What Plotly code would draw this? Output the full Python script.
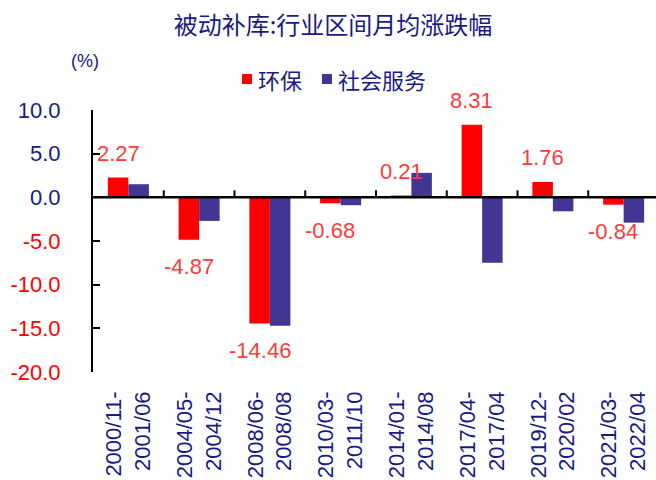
import plotly.graph_objects as go

# Interval labels (start- / end) for each passive-restocking period
periods = [
    "2000/11-<br>2001/06",
    "2004/05-<br>2004/12",
    "2008/06-<br>2008/08",
    "2010/03-<br>2011/10",
    "2014/01-<br>2014/08",
    "2017/04-<br>2017/04",
    "2019/12-<br>2020/02",
    "2021/03-<br>2022/04",
]

# Average monthly change (%) per period
huanbao = [2.27, -4.87, -14.46, -0.68, 0.21, 8.31, 1.76, -0.84]
shehui_fuwu = [1.5, -2.7, -14.7, -0.9, 2.8, -7.5, -1.6, -2.9]

series_names = ["环保", "社会服务"]
y_ticks = [-20, -15, -10, -5, 0, 5, 10]

RED = "#ff0000"
BLUE = "#433594"
NAVY = "#1a1a86"
LABEL_RED = "#ff3b3b"
NUM_FONT = "Arial, Liberation Sans, sans-serif"
CJK_FONT = "Noto Sans CJK SC, sans-serif"

W, H = 656, 480
ml, mr, mt, mb = 93, 0, 110, 108
pw, ph = W - ml - mr, H - mt - mb


def px_x(px):
    """Pixel column -> paper x."""
    return (px - ml) / pw


def px_y(py):
    """Pixel row (from top) -> paper y."""
    return (H - py - mb) / ph


x_idx = list(range(len(periods)))
bargap = 0.42

fig = go.Figure()
fig.add_trace(go.Bar(x=x_idx, y=huanbao, name=series_names[0], marker_color=RED,
                     marker_line_width=0, showlegend=False))
fig.add_trace(go.Bar(x=x_idx, y=shehui_fuwu, name=series_names[1], marker_color=BLUE,
                     marker_line_width=0, showlegend=False))

# Value labels above/below the 环保 bars
red_offset = -(1 - bargap) / 4
annotations = []
for i, v in enumerate(huanbao):
    annotations.append(dict(
        x=i + red_offset, y=v, xref="x", yref="y",
        text=f"{v:.2f}", showarrow=False,
        yshift=24 if v >= 0 else -27, yanchor="middle",
        font=dict(family=NUM_FONT, size=22, color=LABEL_RED),
    ))

# unit label
annotations.append(dict(
    x=px_x(85), y=px_y(61), xref="paper", yref="paper", text="(%)",
    xanchor="center", yanchor="middle", showarrow=False,
    font=dict(family=NUM_FONT, size=18, color=NAVY),
))

shapes = []

# legend: coloured squares followed by series names
legend_items = [(series_names[0], RED, 242), (series_names[1], BLUE, 322)]
for name, color, left in legend_items:
    shapes.append(dict(type="rect", xref="paper", yref="paper",
                       x0=px_x(left), x1=px_x(left + 10),
                       y0=px_y(84), y1=px_y(74),
                       fillcolor=color, line=dict(width=0), layer="above"))
    annotations.append(dict(
        x=px_x(left + 14), y=px_y(79), xref="paper", yref="paper", text=name,
        xanchor="left", yanchor="middle", showarrow=False,
        font=dict(family=CJK_FONT, size=22, color=NAVY),
    ))

# Y tick labels: positive values navy, negative values red
y_ticktext = [
    f"<span style='color:{NAVY if v >= 0 else RED}'>{v:.1f}</span>" for v in y_ticks
]

# zero line acting as the category axis
shapes.append(dict(type="line", xref="paper", yref="y", x0=0, x1=1, y0=0, y1=0,
                   line=dict(color="black", width=2.5), layer="above"))
# short upward ticks at category boundaries on the zero line
for i in range(len(periods) - 1):
    shapes.append(dict(type="line", xref="x", yref="y", ysizemode="pixel",
                       yanchor=0, x0=i + 0.5, x1=i + 0.5, y0=0, y1=7,
                       line=dict(color="black", width=2), layer="above"))

fig.update_layout(
    template="none",
    width=W, height=H,
    margin=dict(l=ml, r=mr, t=mt, b=mb, pad=0),
    paper_bgcolor="white", plot_bgcolor="white",
    barmode="group", bargap=bargap, bargroupgap=0,
    title=dict(text="被动补库:行业区间月均涨跌幅", x=333 / W, xanchor="center",
               y=1 - 26 / H, yanchor="middle",
               font=dict(family=CJK_FONT, size=24, color=NAVY)),
    showlegend=False,
    annotations=annotations,
    shapes=shapes,
    xaxis=dict(range=[-0.5, -0.5 + pw / 70.75], tickmode="array", tickvals=x_idx,
               ticktext=periods, tickangle=-90, showline=False, ticks="",
               showgrid=False, zeroline=False, automargin=False,
               ticklabelstandoff=14,
               tickfont=dict(family=NUM_FONT, size=22, color=NAVY)),
    yaxis=dict(range=[-20, 10], tickmode="array", tickvals=y_ticks,
               ticktext=y_ticktext, showline=True, linecolor="black",
               linewidth=2, ticks="inside", ticklen=7, tickwidth=2,
               tickcolor="black", showgrid=False, zeroline=False,
               automargin=False, ticklabelstandoff=26,
               tickfont=dict(family=NUM_FONT, size=22, color=NAVY)),
)

fig.write_html("out.html")
